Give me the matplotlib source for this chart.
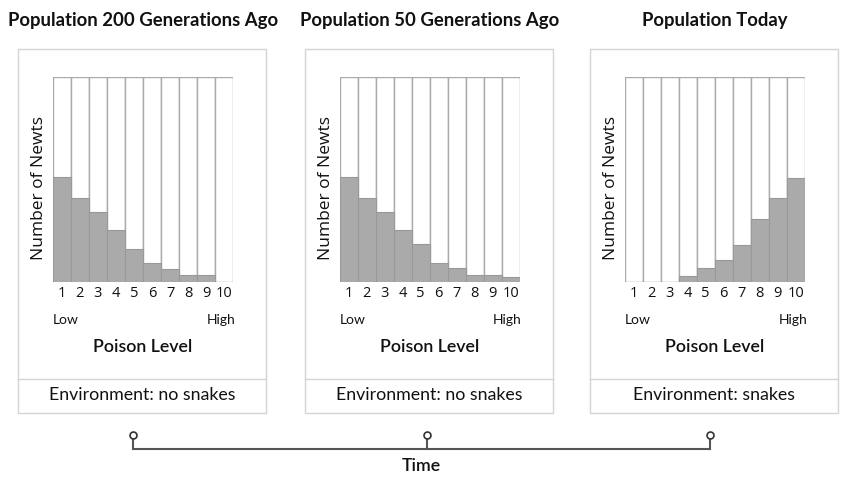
import matplotlib
matplotlib.use("Agg")
import matplotlib.pyplot as plt
from matplotlib.patches import Rectangle

W, H = 846, 478

poison_levels = [1, 2, 3, 4, 5, 6, 7, 8, 9, 10]
gen200 = [51, 41, 34, 25, 16, 9, 6, 3.3, 3.1, 0]
gen50 = [51, 41, 34, 25, 18.5, 9.3, 6.7, 3.4, 3.4, 2.4]
today = [0, 0, 0, 2.8, 6.5, 10.5, 17.8, 30.4, 40.8, 50.9]

titles = ["Population 200 Generations Ago", "Population 50 Generations Ago", "Population Today"]
environments = ["Environment: no snakes", "Environment: no snakes", "Environment: snakes"]
series = [gen200, gen50, today]

box_left = [18.3, 305, 590]
box_w = 247.5
box_top, box_div, box_bot = 49, 378.7, 412.7
plot_off, plot_w = 34.5, 180.5
plot_top, plot_bot = 77.3, 281.5

title_font = "Lato"
body_font = "Lato"
axis_font = "Open Sans"
ink = "#111111"

fig = plt.figure(figsize=(W / 100, H / 100), dpi=100)
bg = fig.add_axes([0, 0, 1, 1])
bg.set_xlim(0, W)
bg.set_ylim(H, 0)
bg.axis("off")

box_col = "#d4d4d4"
for i in range(3):
    x0 = box_left[i]
    bg.add_patch(Rectangle((x0, box_top), box_w, box_bot - box_top, fill=False,
                           edgecolor=box_col, lw=1.0))
    bg.plot([x0, x0 + box_w], [box_div, box_div], color=box_col, lw=1.0)

    px = x0 + plot_off
    cx = px + plot_w / 2
    bg.text(cx, 20, titles[i], ha="center", va="center", fontsize=13.3,
            fontweight="bold", family=title_font, color=ink)
    bg.text(px, 320, "Low", ha="left", va="center", fontsize=10,
            family=body_font, color=ink)
    bg.text(px + plot_w + 2, 320, "High", ha="right", va="center", fontsize=10,
            family=body_font, color=ink)
    bg.text(cx, 347, "Poison Level", ha="center", va="center", fontsize=12.8,
            fontweight="semibold", family=body_font, color=ink)
    bg.text(x0 + box_w / 2, 395, environments[i], ha="center", va="center",
            fontsize=12.8, family=body_font, color=ink)

    ax = fig.add_axes([px / W, 1 - plot_bot / H, plot_w / W, (plot_bot - plot_top) / H])
    ax.bar(poison_levels, [100] * 10, width=1.0, color="white", edgecolor="#aaaaaa", lw=1.0)
    ax.bar(poison_levels, series[i], width=1.0, color="#aaaaaa", edgecolor="#999999", lw=0.8)
    ax.set_xlim(0.5, 10.5)
    ax.set_ylim(0, 100)
    for s in ax.spines.values():
        s.set_visible(False)
    ax.set_yticks([])
    ax.set_xticks(poison_levels)
    ax.set_xticklabels([str(p) for p in poison_levels], family=axis_font,
                       fontsize=10.5, color=ink)
    ax.tick_params(axis="x", length=0, pad=3)
    ax.set_ylabel("Number of Newts", family=axis_font, fontsize=12.5, color=ink,
                  labelpad=4)
    ax.yaxis.label.set_y(0.46)

# timeline
line_col = "#555555"
marks = [132.7, 427, 710]
bg.plot([marks[0], marks[-1]], [449.3, 449.3], color=line_col, lw=1.5, solid_capstyle="butt")
for m in marks:
    bg.plot([m, m], [437, 449.3], color=line_col, lw=1.5)
    bg.plot(m, 435, marker="o", markersize=5, markerfacecolor="white",
            markeredgecolor="#333333", markeredgewidth=1.2)
bg.text(421, 466, "Time", ha="center", va="center", fontsize=12.8,
        fontweight="semibold", family=body_font, color=ink)

fig.savefig("out.png", dpi=100)
